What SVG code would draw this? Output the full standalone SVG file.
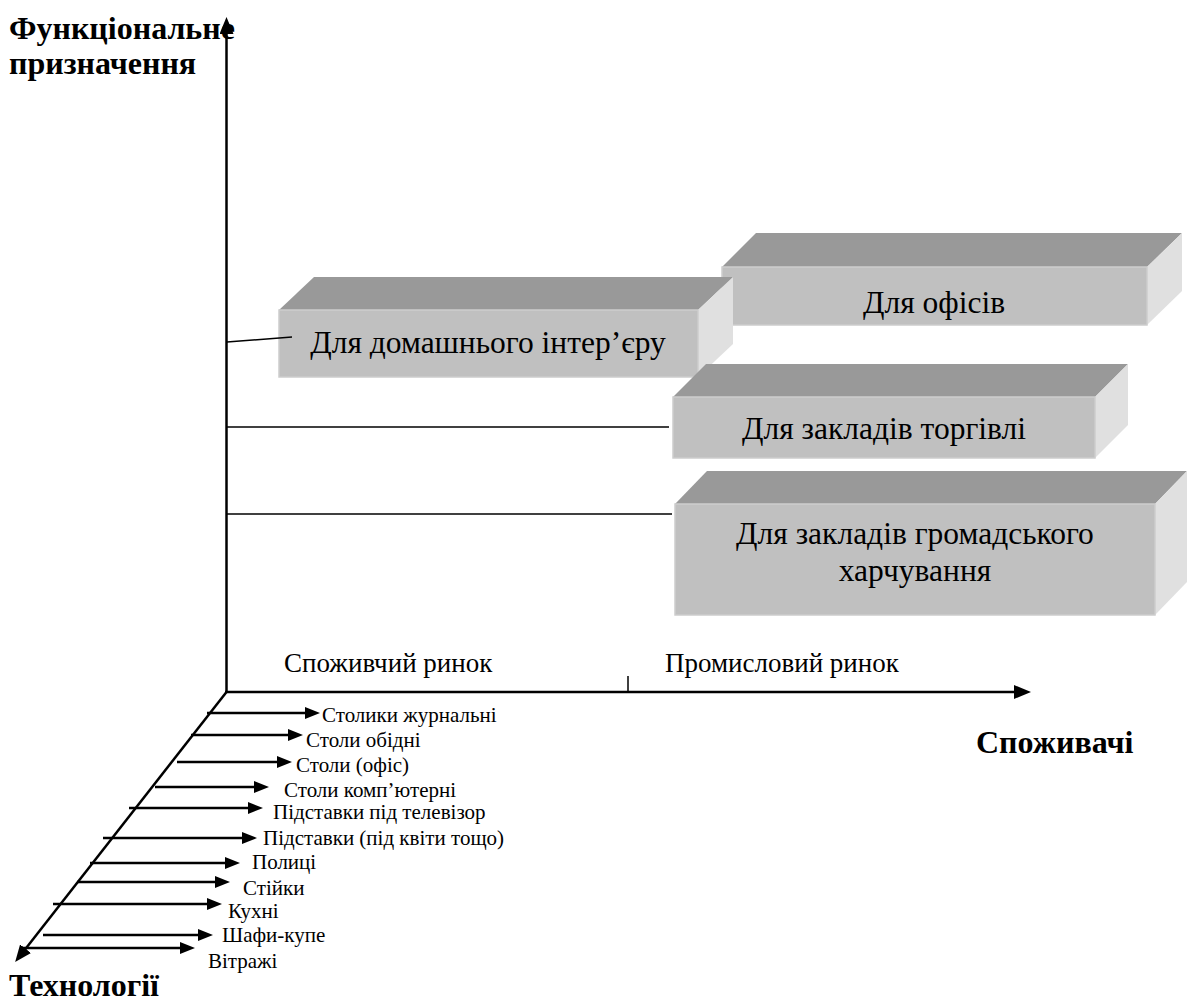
<svg xmlns="http://www.w3.org/2000/svg" width="1187" height="1003" viewBox="0 0 1187 1003">
<style>
text{font-family:"Liberation Serif","Times New Roman",Tinos,"DejaVu Serif","Noto Serif",serif;fill:#000}
.bold{font-weight:bold;font-size:32px}
.box{font-size:31.5px;text-anchor:middle}
.mkt{font-size:27px}
.lbl{font-size:21px}
.top{fill:#999999}
.front{fill:#c0c0c0;stroke:#cdcdcd;stroke-width:1.5}
.side{fill:#e0e0e0}
.axis{stroke:#000;stroke-width:2.5;fill:none}
.arr{stroke:#000;stroke-width:2.5;fill:none;marker-end:url(#sa)}
.thin{stroke:#000;stroke-width:1.5;fill:none}
</style>
<defs>
<marker id="sa" viewBox="0 0 15 12" refX="1" refY="6" markerWidth="15" markerHeight="12" markerUnits="userSpaceOnUse" orient="auto"><path d="M0,0 L15,6 L0,12 z" fill="#000"/></marker>
<marker id="ax" viewBox="0 0 17 14" refX="1" refY="7" markerWidth="17" markerHeight="14" markerUnits="userSpaceOnUse" orient="auto"><path d="M0,0 L17,7 L0,14 z" fill="#000"/></marker>
</defs>
<rect width="1187" height="1003" fill="#fff"/>

<g id="axis-titles">
<text class="bold" x="9" y="39">Функціональне</text>
<text class="bold" x="9" y="74">призначення</text>
<text class="bold" x="976" y="753">Споживачі</text>
<text class="bold" x="9" y="996">Технології</text>
</g>

<g id="box-ofisiv">
<polygon class="top" points="722,267 756,233 1182,233 1147,267"/>
<polygon class="side" points="1147,267 1182,233 1182,291 1147,325"/>
<rect class="front" x="722" y="267" width="425" height="58"/>
<text class="box" x="934" y="313">Для офісів</text>
</g>

<g id="box-domashnogo">
<polygon class="top" points="279,310 314,277 733,277 698,310"/>
<polygon class="side" points="698,310 733,277 733,344 698,377"/>
<rect class="front" x="279" y="310" width="419" height="67"/>
<text class="box" x="488" y="353">Для домашнього інтер’єру</text>
</g>

<g id="box-torgivli">
<polygon class="top" points="673,397 706,364 1128,364 1095,397"/>
<polygon class="side" points="1095,397 1128,364 1128,425 1095,458"/>
<rect class="front" x="673" y="397" width="422" height="61"/>
<text class="box" x="884" y="439">Для закладів торгівлі</text>
</g>

<g id="box-kharchuvannia">
<polygon class="top" points="675,504 707,471 1187,471 1155,504"/>
<polygon class="side" points="1155,504 1187,471 1187,582 1155,615"/>
<rect class="front" x="675" y="504" width="480" height="111"/>
<text class="box" x="915" y="544">Для закладів громадського</text>
<text class="box" x="915" y="581">харчування</text>
</g>

<g id="connectors">
<line class="axis" x1="226.5" y1="693" x2="226.5" y2="33" marker-end="url(#ax)"/>
<line class="axis" x1="225" y1="692" x2="1015" y2="692" marker-end="url(#ax)"/>
<line class="axis" x1="226.5" y1="692" x2="25" y2="949.5" marker-end="url(#ax)"/>
<line class="thin" x1="628" y1="676" x2="628" y2="692"/>
<line class="thin" x1="227" y1="342" x2="292" y2="337"/>
<line class="thin" x1="227" y1="427" x2="669" y2="427"/>
<line class="thin" x1="227" y1="514" x2="672" y2="514"/>
<line class="arr" x1="207" y1="713" x2="306" y2="713"/>
<line class="arr" x1="191" y1="735" x2="289" y2="735"/>
<line class="arr" x1="177" y1="762" x2="278" y2="762"/>
<line class="arr" x1="155" y1="787" x2="255" y2="787"/>
<line class="arr" x1="129" y1="808" x2="249" y2="808"/>
<line class="arr" x1="103" y1="838" x2="243" y2="838"/>
<line class="arr" x1="90" y1="863" x2="226" y2="863"/>
<line class="arr" x1="77" y1="882" x2="216" y2="882"/>
<line class="arr" x1="53" y1="904" x2="208" y2="904"/>
<line class="arr" x1="43" y1="935" x2="199" y2="935"/>
<line class="arr" x1="20" y1="948" x2="181" y2="948"/>
</g>

<g id="labels">
<text class="mkt" x="284" y="672">Споживчий ринок</text>
<text class="mkt" x="665" y="672">Промисловий ринок</text>
<text class="lbl" x="322" y="722">Столики журнальні</text>
<text class="lbl" x="306" y="747">Столи обідні</text>
<text class="lbl" x="296" y="772">Столи (офіс)</text>
<text class="lbl" x="284" y="797">Столи комп’ютерні</text>
<text class="lbl" x="273" y="819">Підставки під телевізор</text>
<text class="lbl" x="263" y="845">Підставки (під квіти тощо)</text>
<text class="lbl" x="252" y="869">Полиці</text>
<text class="lbl" x="243" y="895">Стійки</text>
<text class="lbl" x="228" y="918">Кухні</text>
<text class="lbl" x="222" y="942">Шафи-купе</text>
<text class="lbl" x="208" y="968">Вітражі</text>
</g>
</svg>
